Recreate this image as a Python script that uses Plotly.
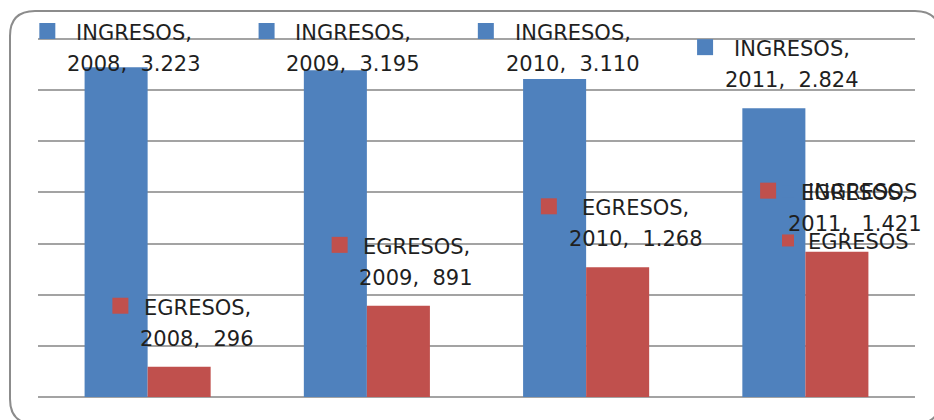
import plotly.graph_objects as go

# Data
years = ["2008", "2009", "2010", "2011"]
ingresos = [3223, 3195, 3110, 2824]
egresos = [296, 891, 1268, 1421]
series_names = ["INGRESOS", "EGRESOS"]
series_colors = ["#4F81BD", "#C0504D"]
series_values = [ingresos, egresos]

# Layout constants
W, H = 934, 420
MARGIN = dict(l=38, r=19, t=35, b=23, autoexpand=False)
Y_MAX, Y_STEP = 3500, 500
TOP_PAD_PX = 4       # keeps the top gridline inside the plot area
BARGAP = 0.425
FONT = "DejaVu Sans"
FS = 21
TEXT_COLOR = "#1f1f1f"

plot_w = W - MARGIN["l"] - MARGIN["r"]
plot_h = H - MARGIN["t"] - MARGIN["b"]
ppu = (plot_h - TOP_PAD_PX) / Y_MAX  # pixels per data unit
Y_TOP = plot_h / ppu

LABEL_GAP_PX = 28    # bar top -> centre of the second label line
LABEL_TOP_PX = 25    # labels never rise above this distance below the top gridline
LINE_STEP_PX = 31    # distance between the two label lines
TEXT_DX = 18         # label text is centred a little right of its bar
KEY_SIZE = 16
KEY_GAP = 12         # gap between the legend key and the widest label line

# approximate DejaVu Sans advance widths (em) for the label characters
ADV = {"I": .295, "N": .748, "G": .775, "R": .695, "E": .632, "S": .635,
       "O": .787, ",": .318, ".": .318, " ": .318, "\u00a0": .318}


def text_width(s):
    return FS * sum(ADV.get(ch, .636) for ch in s)


def fmt(v):
    return f"{v:,}".replace(",", ".")


fig = go.Figure()
for name, vals, color in zip(series_names, series_values, series_colors):
    fig.add_trace(go.Bar(
        name=name, x=years, y=vals, legendgroup=name,
        marker=dict(color=color, line=dict(width=0)),
        hoverinfo="skip",
    ))

annotations, shapes = [], []
n_cat = len(years)
bar_w = (1 - BARGAP) / len(series_names)
cap = Y_MAX - LABEL_TOP_PX / ppu
font = dict(family=FONT, size=FS, color=TEXT_COLOR)
for k, (name, vals, color) in enumerate(zip(series_names, series_values, series_colors)):
    for i, (yr, v) in enumerate(zip(years, vals)):
        xc = i + (k - (len(series_names) - 1) / 2) * bar_w
        y2 = min(v + LABEL_GAP_PX / ppu, cap)
        line1 = f"{name},"
        line2 = f"{yr},\u00a0 {fmt(v)}"
        annotations.append(dict(
            x=xc, y=y2, xref="x", yref="y", text=line2, showarrow=False,
            xanchor="center", yanchor="middle", xshift=TEXT_DX, font=font))
        annotations.append(dict(
            x=xc, y=y2, xref="x", yref="y", text=line1, showarrow=False,
            xanchor="center", yanchor="middle", xshift=TEXT_DX,
            yshift=LINE_STEP_PX, font=font))
        # legend key beside the label, placed in paper units so it is not clipped
        half = max(text_width(line1), text_width(line2)) / 2
        kx1 = TEXT_DX - half - KEY_GAP
        shapes.append(dict(
            type="rect", xref="paper", yref="paper",
            xsizemode="pixel", ysizemode="pixel",
            xanchor=(xc + 0.5) / n_cat, yanchor=y2 / Y_TOP,
            x0=kx1 - KEY_SIZE, x1=kx1,
            y0=LINE_STEP_PX + 2 - KEY_SIZE / 2, y1=LINE_STEP_PX + 2 + KEY_SIZE / 2,
            fillcolor=color, line=dict(width=0), layer="above"))


# rounded chart frame, given in pixels and converted to paper units
def px(x):
    return (x - MARGIN["l"]) / plot_w


def py(y):
    return (H - MARGIN["b"] - y) / plot_h


FL, FT, FR, FB, RAD = 10, 11, 940, 424, 25
frame = (
    f"M{px(FL + RAD)},{py(FT)} L{px(FR - RAD)},{py(FT)} "
    f"Q{px(FR)},{py(FT)} {px(FR)},{py(FT + RAD)} L{px(FR)},{py(FB - RAD)} "
    f"Q{px(FR)},{py(FB)} {px(FR - RAD)},{py(FB)} L{px(FL + RAD)},{py(FB)} "
    f"Q{px(FL)},{py(FB)} {px(FL)},{py(FB - RAD)} L{px(FL)},{py(FT + RAD)} "
    f"Q{px(FL)},{py(FT)} {px(FL + RAD)},{py(FT)} Z"
)
shapes.append(dict(type="path", xref="paper", yref="paper", path=frame,
                   line=dict(color="#8c8c8c", width=2), layer="above"))

fig.update_layout(
    width=W, height=H, margin=MARGIN,
    paper_bgcolor="white", plot_bgcolor="white",
    barmode="group", bargap=BARGAP, bargroupgap=0,
    font=dict(family=FONT, size=FS, color=TEXT_COLOR),
    showlegend=True,
    legend=dict(x=px(768), y=py(171), xanchor="left", yanchor="top",
                bgcolor="rgba(0,0,0,0)", tracegroupgap=19,
                font=dict(family=FONT, size=FS, color=TEXT_COLOR)),
    annotations=annotations, shapes=shapes,
)
fig.update_xaxes(range=[-0.5, n_cat - 0.5], showticklabels=False, showgrid=False,
                 zeroline=False, ticks="", showline=False, fixedrange=True)
fig.update_yaxes(range=[0, Y_TOP], dtick=Y_STEP, showticklabels=False,
                 showgrid=True, gridcolor="#a3a3a3", gridwidth=1.5,
                 zeroline=True, zerolinecolor="#a3a3a3", zerolinewidth=2,
                 ticks="", showline=False, fixedrange=True)

fig.write_html("out.html", config=dict(displayModeBar=False))
